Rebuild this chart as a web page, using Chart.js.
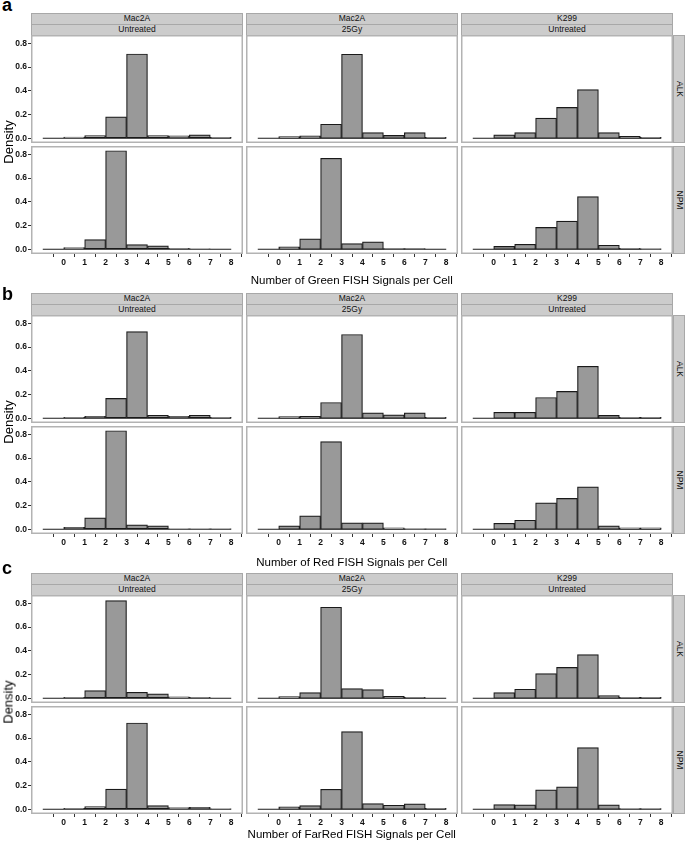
<!DOCTYPE html>
<html>
<head>
<meta charset="utf-8">
<script src="https://cdn.jsdelivr.net/npm/chart.js@4.4.1/dist/chart.umd.min.js"></script>
<style>
body{margin:0;background:#fff;font-family:"Liberation Sans",Arial,sans-serif;}
#fig{position:relative;width:685px;height:844px;overflow:hidden;background:#fff;}
canvas{position:absolute;}
.strip{position:absolute;background:#cccccc;border:1px solid #a8a8a8;box-sizing:border-box;font-size:8.5px;color:#111;text-align:center;line-height:9.5px;white-space:nowrap;}
.vstrip span{position:absolute;left:50%;top:50%;transform:translate(-50%,-50%) rotate(90deg);}
.lbl{position:absolute;white-space:nowrap;color:#000;}
</style>
</head>
<body>
<div id="fig"></div>
<script>
// bins are [k, k+1)
const binStarts = [0, 1, 2, 3, 4, 5, 6, 7];
const xMin = -1, xMax = 8;
const xTicks = [0, 1, 2, 3, 4, 5, 6, 7, 8];
const yTicks = [0, 0.2, 0.4, 0.6, 0.8];
const yMin = -0.04, yMax = 0.87;

const cellLines = ['Mac2A', 'Mac2A', 'K299'];
const treatments = ['Untreated', '25Gy', 'Untreated'];
const probes = ['ALK', 'NPM'];
const panelLetters = ['a', 'b', 'c'];
const signalNames = ['Green', 'Red', 'FarRed'];

// a: green signals
const greenMacUntALK = [0.010, 0.022, 0.180, 0.710, 0.022, 0.020, 0.028, 0.008];
const greenMac25ALK  = [0.014, 0.020, 0.118, 0.708, 0.048, 0.025, 0.048, 0.008];
const greenK299ALK   = [0.028, 0.048, 0.170, 0.260, 0.410, 0.048, 0.017, 0.008];
const greenMacUntNPM = [0.014, 0.082, 0.830, 0.040, 0.028, 0.008, 0.002, 0.000];
const greenMac25NPM  = [0.020, 0.088, 0.766, 0.048, 0.062, 0.005, 0.005, 0.000];
const greenK299NPM   = [0.025, 0.042, 0.184, 0.237, 0.444, 0.034, 0.008, 0.003];
// b: red signals
const redMacUntALK = [0.008, 0.017, 0.167, 0.730, 0.025, 0.017, 0.025, 0.008];
const redMac25ALK  = [0.014, 0.017, 0.133, 0.706, 0.045, 0.028, 0.045, 0.008];
const redK299ALK   = [0.050, 0.050, 0.175, 0.226, 0.438, 0.025, 0.008, 0.008];
const redMacUntNPM = [0.017, 0.096, 0.830, 0.037, 0.028, 0.003, 0.003, 0.003];
const redMac25NPM  = [0.028, 0.113, 0.738, 0.054, 0.054, 0.011, 0.003, 0.003];
const redK299NPM   = [0.050, 0.076, 0.222, 0.260, 0.358, 0.028, 0.011, 0.011];
// c: far red signals
const farMacUntALK = [0.008, 0.065, 0.823, 0.050, 0.037, 0.011, 0.008, 0.000];
const farMac25ALK  = [0.014, 0.048, 0.767, 0.081, 0.073, 0.017, 0.008, 0.000];
const farK299ALK   = [0.048, 0.076, 0.208, 0.260, 0.368, 0.022, 0.008, 0.008];
const farMacUntNPM = [0.008, 0.022, 0.170, 0.727, 0.030, 0.014, 0.017, 0.003];
const farMac25NPM  = [0.020, 0.031, 0.168, 0.655, 0.048, 0.034, 0.045, 0.008];
const farK299NPM   = [0.040, 0.037, 0.163, 0.188, 0.520, 0.037, 0.006, 0.006];

const panels = [
  [[greenMacUntALK, greenMac25ALK, greenK299ALK], [greenMacUntNPM, greenMac25NPM, greenK299NPM]],
  [[redMacUntALK, redMac25ALK, redK299ALK], [redMacUntNPM, redMac25NPM, redK299NPM]],
  [[farMacUntALK, farMac25ALK, farK299ALK], [farMacUntNPM, farMac25NPM, farK299NPM]]
];

// layout
const panelTop = [0, 280, 560];
const letterTop = [-5, 284, 558];
const titleMid = [280, 562, 834];
const colLeft = [31, 246, 461];
const colW = 212;
const rowTop = [35, 145.5];
const rowH = 108;
const axisW = 31, axisH = 16, sidePad = 6;
const FONT = '"Liberation Sans", Arial, sans-serif';

const fig = document.getElementById('fig');

function addDiv(cls, css, html) {
  const d = document.createElement('div');
  d.className = cls;
  Object.assign(d.style, css);
  d.innerHTML = html;
  fig.appendChild(d);
  return d;
}

const boxPlugin = {
  id: 'box',
  afterDraw(chart) {
    const {ctx, chartArea: a} = chart;
    ctx.save();
    ctx.strokeStyle = '#b3b3b3';
    ctx.lineWidth = 1.5;
    ctx.strokeRect(a.left + 0.75, a.top + 0.75, a.right - a.left - 1.5, a.bottom - a.top - 1.5);
    ctx.restore();
  }
};

function makeChart(values, top, left, showY, showX) {
  const cv = document.createElement('canvas');
  // bottom row canvases get a little room at the sides for the edge tick labels
  const padL = showY ? 0 : (showX ? sidePad : 0);
  const padR = showX ? sidePad : 0;
  const w = colW + (showY ? axisW : 0) + padL + padR;
  const h = rowH + (showX ? axisH : 0);
  cv.width = w; cv.height = h;
  cv.style.left = (left - (showY ? axisW : 0) - padL) + 'px';
  cv.style.top = top + 'px';
  cv.style.width = w + 'px';
  cv.style.height = h + 'px';
  fig.appendChild(cv);

  new Chart(cv.getContext('2d'), {
    type: 'bar',
    data: {
      datasets: [
        {
          type: 'bar',
          data: binStarts.map((b, i) => ({x: b + 0.5, y: values[i]})),
          backgroundColor: '#999999',
          borderColor: '#1a1a1a',
          borderWidth: 1.2,
          borderSkipped: false,
          barPercentage: 1,
          categoryPercentage: 1,
          order: 1
        },
        {
          type: 'line',
          data: [{x: xMin, y: 0}, {x: xMax, y: 0}],
          borderColor: '#1a1a1a',
          borderWidth: 1.2,
          pointRadius: 0,
          pointHoverRadius: 0,
          order: 2
        }
      ]
    },
    options: {
      responsive: false,
      animation: false,
      devicePixelRatio: 1,
      layout: {padding: {left: padL, right: padR, top: 0, bottom: 0}, autoPadding: false},
      plugins: {legend: {display: false}, tooltip: {enabled: false}},
      scales: {
        x: {
          type: 'linear', min: xMin, max: xMax,
          display: showX,
          afterBuildTicks: s => { s.ticks = xTicks.map(v => ({value: v})); },
          afterFit: s => { if (showX) { s.height = axisH; } s.paddingLeft = 0; s.paddingRight = 0; },
          grid: {drawOnChartArea: false, drawTicks: true, tickLength: 3, color: '#333'},
          border: {display: false},
          ticks: {autoSkip: false, maxRotation: 0, padding: 1, color: '#111', font: {family: FONT, size: 8.5, weight: 'bold'}}
        },
        y: {
          min: yMin, max: yMax,
          display: showY,
          afterBuildTicks: s => { s.ticks = yTicks.map(v => ({value: v})); },
          afterFit: s => { if (showY) { s.width = axisW; } s.paddingTop = 0; s.paddingBottom = 0; },
          grid: {drawOnChartArea: false, drawTicks: true, tickLength: 3, color: '#333'},
          border: {display: false},
          ticks: {padding: 1, color: '#111', font: {family: FONT, size: 8.5, weight: 'bold'}, callback: v => v.toFixed(1)}
        }
      }
    },
    plugins: [boxPlugin]
  });
}

panels.forEach((panel, p) => {
  const py = panelTop[p];
  addDiv('lbl', {left: '2px', top: letterTop[p] + 'px', fontSize: '18px', fontWeight: 'bold'}, panelLetters[p]);

  for (let c = 0; c < 3; c++) {
    addDiv('strip', {left: colLeft[c] + 'px', top: (py + 13) + 'px', width: colW + 'px', height: '12px'}, cellLines[c]);
    addDiv('strip', {left: colLeft[c] + 'px', top: (py + 24) + 'px', width: colW + 'px', height: '11.5px'}, treatments[c]);
  }
  for (let r = 0; r < 2; r++) {
    addDiv('strip vstrip', {left: '673px', top: (py + rowTop[r]) + 'px', width: '12px', height: rowH + 'px'}, '<span>' + probes[r] + '</span>');
    for (let c = 0; c < 3; c++) {
      makeChart(panel[r][c], py + rowTop[r], colLeft[c], c === 0, r === 1);
    }
  }

  addDiv('lbl', {left: '351.75px', top: titleMid[p] + 'px', fontSize: '11.5px', transform: 'translate(-50%,-50%)'},
    'Number of ' + signalNames[p] + ' FISH Signals per Cell');
  addDiv('lbl', {left: '8px', top: (py + 142) + 'px', fontSize: '13px', transform: 'translate(-50%,-50%) rotate(-90deg)'}, 'Density');
});
</script>
</body>
</html>
